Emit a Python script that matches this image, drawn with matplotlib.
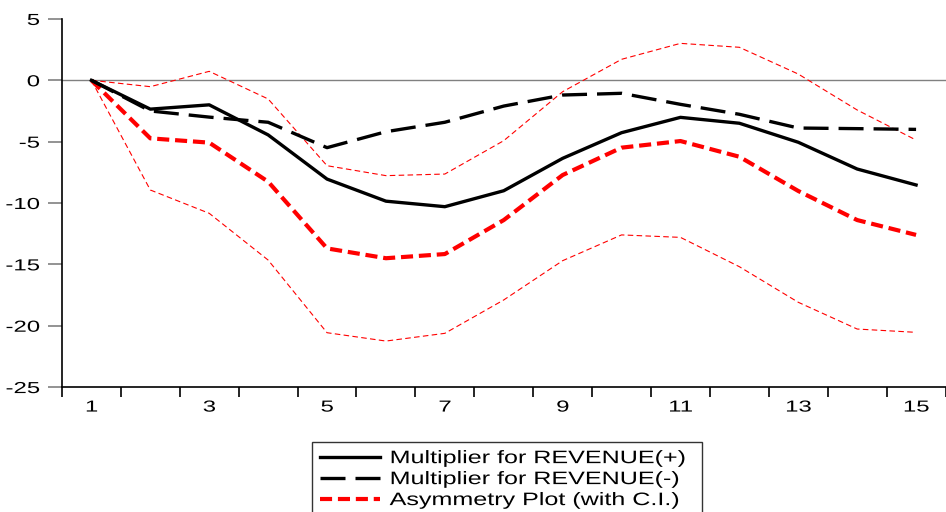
import matplotlib
matplotlib.use("Agg")
import matplotlib.pyplot as plt
from matplotlib.ticker import FixedLocator
from matplotlib.patheffects import AbstractPathEffect
from matplotlib.transforms import Affine2D

plt.rcParams['font.family'] = ['Liberation Sans', 'DejaVu Sans']
plt.rcParams['axes.unicode_minus'] = False

periods = list(range(1, 16))
mult_pos = [0, -2.35, -2.0, -4.45, -8.05, -9.85, -10.3, -9.0, -6.36, -4.27, -3.02, -3.5, -5.05, -7.23, -8.53]
mult_neg = [0, -2.5, -3.0, -3.42, -5.49, -4.19, -3.42, -2.1, -1.2, -1.06, -1.96, -2.77, -3.89, -3.94, -4.0]
asym = [0, -4.73, -5.08, -8.26, -13.7, -14.5, -14.16, -11.39, -7.72, -5.49, -4.95, -6.23, -9.02, -11.39, -12.6]
ci_upper = [0, -0.52, 0.73, -1.52, -6.96, -7.77, -7.64, -4.92, -0.93, 1.71, 3.01, 2.69, 0.51, -2.42, -4.87]
ci_lower = [0, -8.94, -10.84, -14.65, -20.57, -21.25, -20.62, -17.9, -14.7, -12.6, -12.8, -15.19, -18.09, -20.27, -20.54]
x_labels = [1, 3, 5, 7, 9, 11, 13, 15]
y_ticks = [-25, -20, -15, -10, -5, 0, 5]
legend_labels = ["Multiplier for REVENUE(+)", "Multiplier for REVENUE(-)", "Asymmetry Plot (with C.I.)"]


class Stretch(AbstractPathEffect):
    """Stretch text horizontally around an anchor (mimics wide rendering)."""
    def __init__(self, sx, anchor='center'):
        super().__init__()
        self.sx = sx
        self.anchor = anchor

    def draw_path(self, renderer, gc, tpath, affine, rgbFace=None):
        v = tpath.vertices
        if len(v):
            xmin, xmax = v[:, 0].min(), v[:, 0].max()
            a = {'left': xmin, 'center': 0.5 * (xmin + xmax), 'right': xmax}[self.anchor]
        else:
            a = 0
        t = Affine2D().translate(-a, 0).scale(self.sx, 1).translate(a, 0) + affine
        renderer.draw_path(gc, tpath, t, rgbFace)


fig = plt.figure(figsize=(9.46, 5.12), dpi=100)
ax = fig.add_axes([0.0655, 0.244, 0.934, 0.719])

ax.axhline(0, color='#808080', lw=1.0, zorder=1)
ax.plot(periods, ci_upper, color='red', lw=0.8, dashes=(5, 3), zorder=2)
ax.plot(periods, ci_lower, color='red', lw=0.8, dashes=(5, 3), zorder=2)
l3, = ax.plot(periods, asym, color='red', lw=3.0, dashes=(2.9, 1.4), zorder=3)
l2, = ax.plot(periods, mult_neg, color='black', lw=2.4, dashes=(7.5, 3), zorder=4)
l1, = ax.plot(periods, mult_pos, color='black', lw=2.4, zorder=5)

ax.set_xlim(0.5, 15.5)
ax.set_ylim(-25, 5)
ax.xaxis.set_major_locator(FixedLocator(x_labels))
ax.xaxis.set_minor_locator(FixedLocator([p + 0.5 for p in range(0, 16)]))
ax.yaxis.set_major_locator(FixedLocator(y_ticks))
ax.tick_params(axis='x', which='major', length=0, pad=9, labelsize=11.5)
ax.tick_params(axis='x', which='minor', length=7, width=1.2, direction='out')
ax.tick_params(axis='y', which='major', length=10, width=1.2, direction='out',
               labelsize=11.5, pad=6, color='#808080')
ax.tick_params(axis='y', which='minor', length=0)
for s in ['top', 'right']:
    ax.spines[s].set_visible(False)
for s in ['left', 'bottom']:
    ax.spines[s].set_linewidth(1.2)

for lab in ax.get_xticklabels():
    lab.set_path_effects([Stretch(1.5, 'center')])
for lab in ax.get_yticklabels():
    lab.set_path_effects([Stretch(1.5, 'right')])

leg = fig.legend([l1, l2, l3], legend_labels, loc='upper left',
                 bbox_to_anchor=(0.3298, -0.2, 0.4123, 0.3367), mode='expand',
                 frameon=True, fancybox=False,
                 edgecolor='black', fontsize=13, handlelength=3.3,
                 labelspacing=0.22, borderpad=0.45, handletextpad=0.55, borderaxespad=0)
leg.get_frame().set_linewidth(1.0)
for t in leg.get_texts():
    t.set_path_effects([Stretch(1.39, 'left')])

fig.savefig('out.png', dpi=100)
